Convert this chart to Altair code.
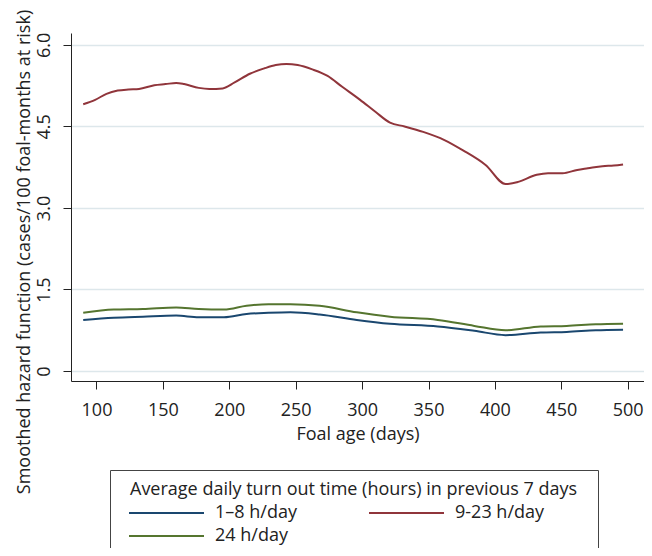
import altair as alt
import pandas as pd

# 9-23 h/day series (red)
red_days = [90, 99, 107.5, 116, 124, 132, 143.5, 152, 160, 166, 177, 185, 195, 204, 215.5, 226.5, 235, 243, 251.5, 262.5, 274, 285, 298.5, 310, 321, 332, 346, 362, 376, 393, 408, 417.5, 431.5, 440, 451, 462, 470, 481, 489.5, 496.5]
red_vals = [4.91, 4.99, 5.10, 5.16, 5.18, 5.19, 5.26, 5.28, 5.30, 5.28, 5.21, 5.19, 5.20, 5.31, 5.47, 5.57, 5.63, 5.65, 5.63, 5.55, 5.43, 5.23, 4.99, 4.77, 4.57, 4.50, 4.40, 4.25, 4.06, 3.79, 3.44, 3.48, 3.61, 3.64, 3.64, 3.70, 3.73, 3.77, 3.78, 3.80]

# 1-8 h/day (blue) and 24 h/day (green)
low_days = [90, 113, 135, 160, 177, 196, 213, 229.5, 246, 268, 296, 321, 357, 384.5, 408, 434.5, 454, 476, 496.5]
blue_vals = [0.94, 0.98, 1.00, 1.02, 0.99, 0.99, 1.05, 1.07, 1.08, 1.04, 0.94, 0.87, 0.82, 0.74, 0.66, 0.71, 0.72, 0.75, 0.76]
green_vals = [1.07, 1.13, 1.14, 1.17, 1.14, 1.13, 1.20, 1.23, 1.23, 1.20, 1.08, 1.00, 0.94, 0.83, 0.75, 0.82, 0.83, 0.86, 0.87]

series_names = ["1\u20138 h/day", "9-23 h/day", "24 h/day"]
series_colors = ["#1a476f", "#90353b", "#55752f"]
# legend fills column by column: this order gives rows (1-8, 9-23) / (24)
legend_order = ["1\u20138 h/day", "24 h/day", "9-23 h/day"]

x_ticks = [100, 150, 200, 250, 300, 350, 400, 450, 500]
y_ticks = [0, 1.5, 3.0, 4.5, 6.0]

rows = []
for d, v in zip(low_days, blue_vals):
    rows.append({"day": d, "value": v, "group": series_names[0]})
for d, v in zip(red_days, red_vals):
    rows.append({"day": d, "value": v, "group": series_names[1]})
for d, v in zip(low_days, green_vals):
    rows.append({"day": d, "value": v, "group": series_names[2]})
df = pd.DataFrame(rows)

FONT = "Open Sans"
FS = 18

chart = alt.Chart(df).mark_line(strokeWidth=2, interpolate="monotone").encode(
    x=alt.X("day:Q",
            scale=alt.Scale(domain=[80.8, 512.27], nice=False, zero=False),
            axis=alt.Axis(values=x_ticks, title="Foal age (days)", grid=False,
                          tickSize=8, labelPadding=12, titlePadding=6,
                          domainColor="#222", tickColor="#222")),
    y=alt.Y("value:Q",
            scale=alt.Scale(domain=[-0.184, 6.22], nice=False, zero=False),
            axis=alt.Axis(values=y_ticks, title="Smoothed hazard function (cases/100 foal-months at risk)",
                          grid=True, gridColor="#dde7eb", gridWidth=1.5,
                          labelAngle=270, labelAlign="center", labelBaseline="alphabetic",
                          labelExpr="datum.value == 0 ? '0' : format(datum.value, '.1f')",
                          tickSize=8, labelPadding=14,
                          titleLimit=700, titleX=-47, titleY=218.5,
                          titleAlign="center", titleBaseline="middle",
                          domainColor="#222", tickColor="#222")),
    color=alt.Color("group:N", sort=series_names,
                    scale=alt.Scale(domain=series_names, range=series_colors),
                    legend=alt.Legend(title="Average daily turn out time (hours) in previous 7 days",
                                      values=legend_order,
                                      orient="none", legendX=39, legendY=437,
                                      columns=2, symbolType="M-2,0H13", symbolSize=100,
                                      symbolStrokeWidth=2, labelOffset=67,
                                      columnPadding=60, rowPadding=5, gridAlign="all",
                                      padding=20, strokeColor="#444", fillColor="white",
                                      titleAnchor="start", titleBaseline="middle",
                                      titleFontWeight="normal",
                                      titleFontSize=FS, labelFontSize=FS, titlePadding=-4,
                                      titleLimit=700, labelLimit=300,
                                      titleColor="#222", labelColor="#222",
                                      titleFont=FONT, labelFont=FONT)),
).properties(
    width=573, height=348,
    autosize=alt.AutoSizeParams(type="none"),
    padding={"left": 63, "top": 25, "right": 0, "bottom": 167},
).configure_axis(
    labelFont=FONT, titleFont=FONT, labelFontSize=FS, titleFontSize=FS,
    labelColor="#222", titleColor="#222", titleFontWeight="normal",
).configure_view(stroke=None)

chart.save("out.html", embed_options={"renderer": "svg", "actions": False})
